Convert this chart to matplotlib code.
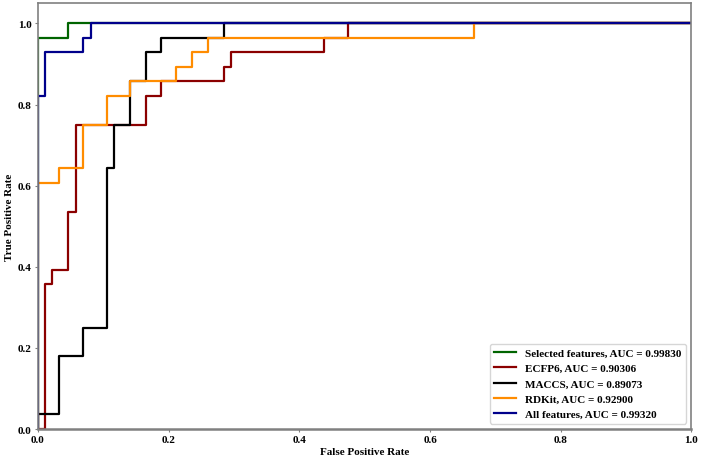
import matplotlib
matplotlib.use('Agg')
import matplotlib.pyplot as plt

# ROC points
sel_fpr = [0.0, 0.0, 0.046, 0.046, 1.0]
sel_tpr = [0.0, 0.964, 0.964, 1.0, 1.0]

ecfp_fpr = [0.0, 0.0105, 0.0105, 0.022, 0.022, 0.046, 0.046, 0.058, 0.058,
            0.165, 0.165, 0.189, 0.189, 0.284, 0.284, 0.295, 0.295, 0.438, 0.438,
            0.475, 0.475, 1.0]
ecfp_tpr = [0.0, 0.0, 0.357, 0.357, 0.393, 0.393, 0.536, 0.536, 0.75, 0.75,
            0.821, 0.821, 0.857, 0.857, 0.893, 0.893, 0.929, 0.929, 0.964,
            0.964, 1.0, 1.0]

maccs_fpr = [0.0, 0.0, 0.033, 0.033, 0.069, 0.069, 0.105, 0.105, 0.117, 0.117,
             0.141, 0.141, 0.165, 0.165, 0.189, 0.189, 0.284, 0.284, 1.0]
maccs_tpr = [0.0, 0.036, 0.036, 0.179, 0.179, 0.25, 0.25, 0.643, 0.643, 0.75,
             0.75, 0.857, 0.857, 0.929, 0.929, 0.964, 0.964, 1.0, 1.0]

rdkit_fpr = [0.0, 0.0, 0.033, 0.033, 0.069, 0.069, 0.105, 0.105, 0.141, 0.141,
             0.212, 0.212, 0.236, 0.236, 0.260, 0.260, 0.667, 0.667, 1.0]
rdkit_tpr = [0.0, 0.607, 0.607, 0.643, 0.643, 0.75, 0.75, 0.821, 0.821, 0.857,
             0.857, 0.893, 0.893, 0.929, 0.929, 0.964, 0.964, 1.0, 1.0]

all_fpr = [0.0, 0.0, 0.0105, 0.0105, 0.069, 0.069, 0.081, 0.081, 1.0]
all_tpr = [0.0, 0.821, 0.821, 0.929, 0.929, 0.964, 0.964, 1.0, 1.0]

labels = ['Selected features, AUC = 0.99830', 'ECFP6, AUC = 0.90306',
          'MACCS, AUC = 0.89073', 'RDKit, AUC = 0.92900',
          'All features, AUC = 0.99320']
colors = ['darkgreen', 'darkred', 'black', 'darkorange', 'darkblue']

plt.rcParams['font.family'] = ['Liberation Serif', 'DejaVu Serif']
plt.rcParams['font.weight'] = 'bold'
plt.rcParams['axes.labelweight'] = 'bold'

fig = plt.figure(figsize=(7.02, 4.6), dpi=100)
ax = fig.add_axes([0.054, 0.065, 0.931, 0.926])

curves = [(sel_fpr, sel_tpr), (ecfp_fpr, ecfp_tpr), (maccs_fpr, maccs_tpr),
          (rdkit_fpr, rdkit_tpr), (all_fpr, all_tpr)]
for (x, y), label, c in zip(curves, labels, colors):
    ax.plot(x, y, color=c, lw=1.6, label=label)

ax.set_xlim(0, 1.0)
ax.set_ylim(0, 1.05)
ax.set_xticks([0.0, 0.2, 0.4, 0.6, 0.8, 1.0])
ax.set_yticks([0.0, 0.2, 0.4, 0.6, 0.8, 1.0])
ax.tick_params(labelsize=8, length=2.5, pad=2, color='gray')
for s in ax.spines.values():
    s.set_color('gray')
    s.set_linewidth(1.2)
ax.spines['bottom'].set_linewidth(1.8)
ax.set_xlabel('False Positive Rate', fontsize=8, labelpad=2)
ax.set_ylabel('True Positive Rate', fontsize=8, labelpad=3)
ax.legend(loc='lower right', fontsize=8, handlelength=2.0)

fig.savefig('out.png', dpi=100)
